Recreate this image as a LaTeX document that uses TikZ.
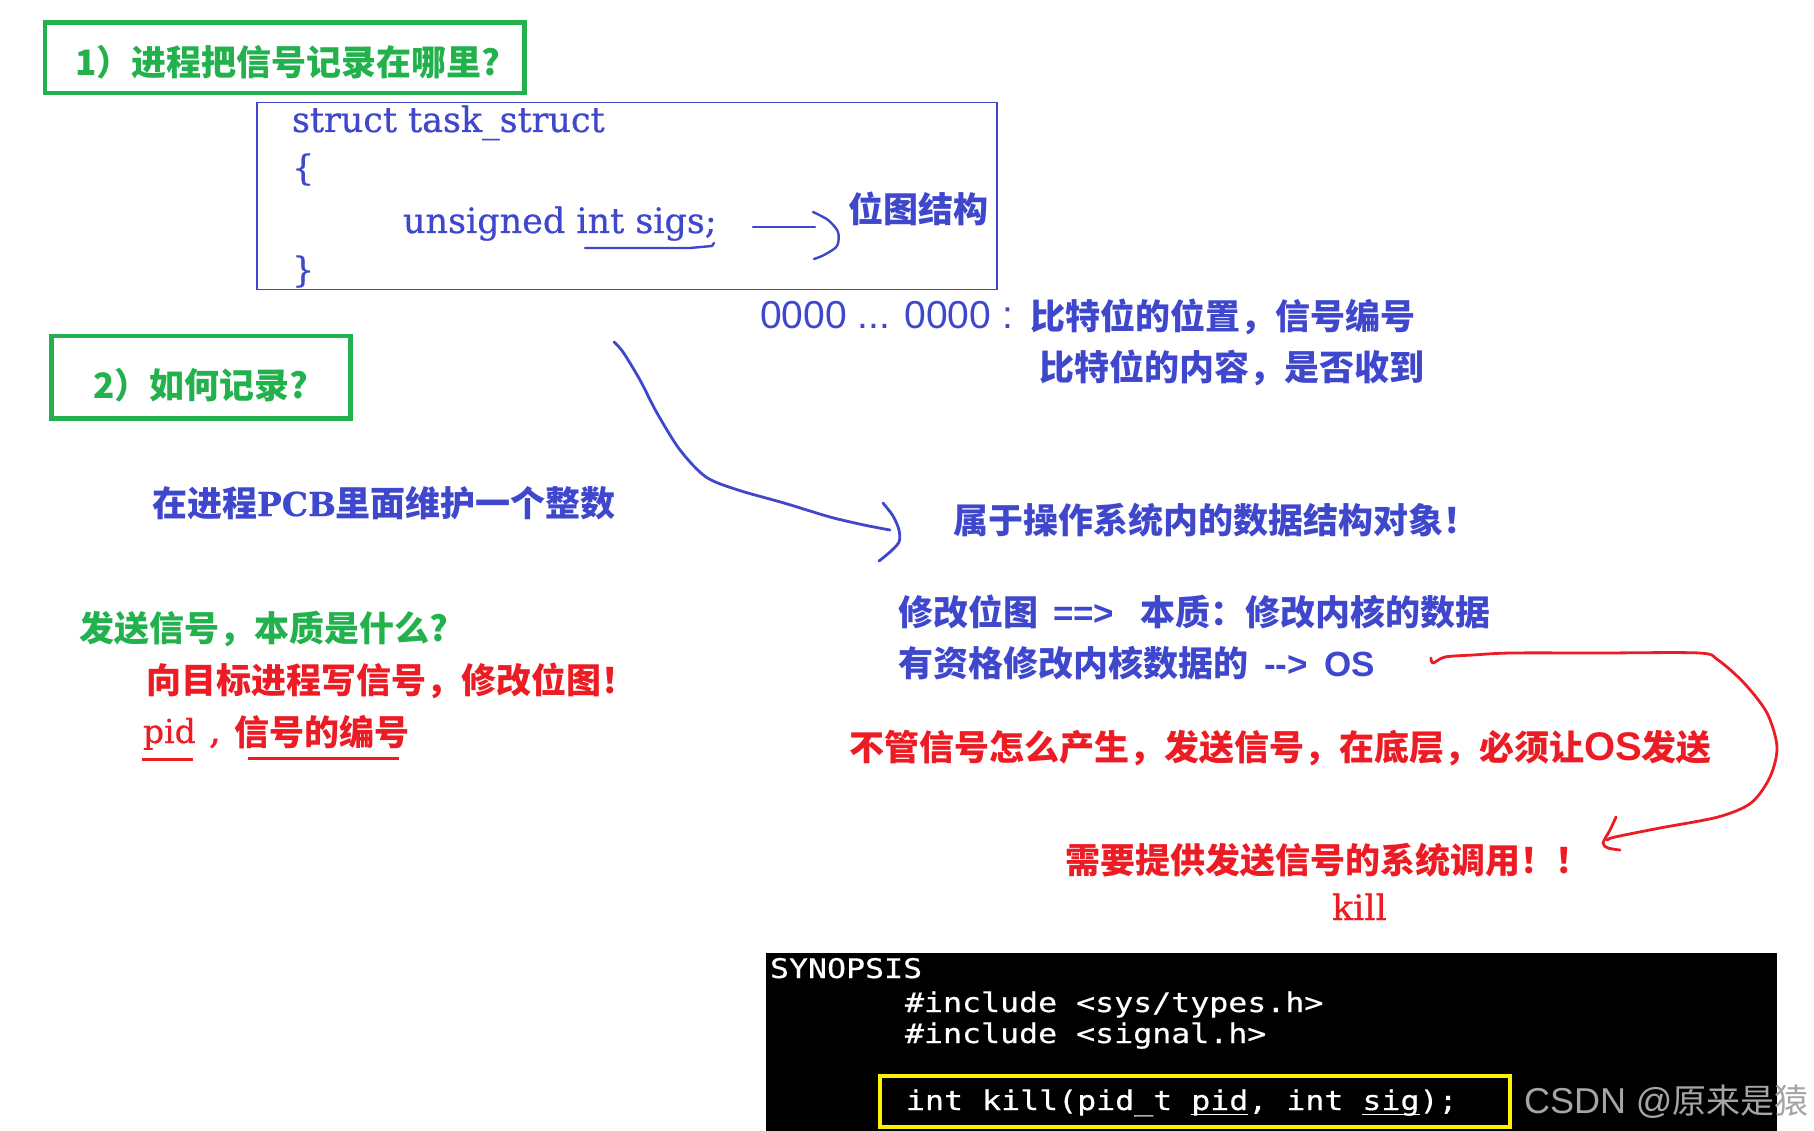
\documentclass[tikz,border=0pt]{standalone}
\usepackage{fontspec}
\newfontfamily\cjk{Noto Sans CJK SC}
\newfontfamily\dser[FakeBold=0.6]{DejaVu Serif}
\newfontfamily\lsans{Liberation Sans}
\newfontfamily\mono[FakeStretch=1.17,FakeBold=0.5]{DejaVu Sans Mono}
\definecolor{myblue}{RGB}{63,72,204}
\definecolor{mygreen}{RGB}{34,177,76}
\definecolor{myred}{RGB}{237,28,36}
\definecolor{myyellow}{RGB}{255,242,0}
\definecolor{wmark}{RGB}{165,165,165}
\newcommand\myul[1]{\setbox0\hbox{#1}\rlap{\rule[-5pt]{\wd0}{1.5pt}}\box0}
\tikzset{
  txt/.style={inner sep=0pt, outer sep=0pt, anchor=base west},
  cj/.style={txt, font=\fontsize{35}{40}\selectfont\cjk\bfseries},
  ser/.style={txt, font=\fontsize{35}{40}\selectfont\dser},
  mon/.style={txt, text=white, font=\fontsize{27}{30}\selectfont\mono},
  gbox/.style={draw=mygreen, line width=4.5pt, inner sep=0pt, anchor=north west},
  hand/.style={line width=2.8pt, line cap=round, line join=round},
}
\begin{document}
\begin{tikzpicture}[x=1pt,y=-1pt]
\useasboundingbox (0,0) rectangle (1814,1131);
\clip (0,0) rectangle (1814,1131);
\fill[white] (0,0) rectangle (1814,1131);

% green question boxes
\node[gbox, minimum width=479.5pt, minimum height=70.5pt] (box1) at (42.5,20.5) {};
\node[cj, text=mygreen] (q1) at (75,76) {1）进程把信号记录在哪里?};
\node[gbox, minimum width=299pt, minimum height=82pt] (box2) at (49,334) {};
\node[cj, text=mygreen] (q2) at (93,398) {2）如何记录?};

% struct box
\node[draw=myblue, line width=1.5pt, inner sep=0pt, anchor=north west,
      minimum width=740pt, minimum height=187pt] (sbox) at (256,102) {};
\node[ser, text=myblue] (s1) at (292,132) {struct task\_struct};
\node[ser, text=myblue] (s2) at (292,180) {\{};
\node[ser, text=myblue] (s3) at (403,233) {unsigned int sigs;};
\node[ser, text=myblue] (s4) at (292,282) {\}};
\draw[hand, myblue, line width=2.4pt] (585,248) -- (690,248) -- (712,246) -- (714,243);
\draw[hand, myblue, line width=2.4pt] (753,227) -- (815,227);
\draw[hand, myblue, line width=2.4pt] plot[smooth] coordinates {(813,212) (828,220) (838,232) (837,246) (824,255) (814,259)};
\node[cj, text=myblue] (bm) at (848,223) {位图结构};

% bits explanation
\node[txt, text=myblue, font=\fontsize{39}{44}\selectfont\lsans] (bits) at (760,329) {0000 ... 0000 :};
\node[cj, text=myblue] (b1) at (1030,330) {比特位的位置，信号编号};
\node[cj, text=myblue] (b2) at (1039,380) {比特位的内容，是否收到};

% big blue curve
\draw[hand, myblue] plot[smooth] coordinates {(614,342) (623,352) (640,380) (657,413) (680,450) (706,477) (738,490) (784,503) (830,517) (864,525) (890,530)};
\draw[hand, myblue] plot[smooth] coordinates {(883,503) (893,516) (899,530) (899,542) (890,552) (879,561)};

\node[cj, text=myblue] (pcb) at (152,516) {在进程{\dser\fontsize{33}{38}\selectfont PCB}里面维护一个整数};
\node[cj, text=myblue] (obj) at (953,533) {属于操作系统内的数据结构对象！};

% sending signals
\node[cj, text=mygreen] (send) at (79,641) {发送信号，本质是什么?};
\node[cj, text=myred] (w1) at (146,693) {向目标进程写信号，修改位图！};
\node[ser, text=myred, font=\fontsize{33}{36}\selectfont\dser] (pid) at (143,743) {pid};
\node[ser, text=myred, font=\fontsize{38}{40}\selectfont\dser] (comma) at (209,743) {,};
\node[cj, text=myred] (sn) at (234,745) {信号的编号};
\draw[myred, line width=3pt] (142,759) -- (193,759);
\draw[myred, line width=3pt] (248,758) -- (399,758);

% kernel data
\node[cj, text=myblue] (k1) at (898,625) {修改位图\hspace{15pt}{\lsans ==>}\hspace{26pt}本质：修改内核的数据};
\node[cj, text=myblue] (k2) at (898,676) {有资格修改内核数据的\hspace{16pt}{\lsans -->}\hspace{17pt}{\lsans OS}};

\draw[hand, myred] plot[smooth] coordinates {(1431,658) (1433,663) (1445,657) (1473,655) (1511,653) (1600,653) (1699,653) (1718,660) (1744,683) (1767,713) (1777,747) (1770,777) (1751,803) (1718,817) (1660,828) (1615,837) (1607,840)};
\draw[hand, myred] plot[smooth] coordinates {(1616,817) (1610,830) (1603,843) (1608,848) (1620,850)};

\node[cj, text=myred] (os) at (849,760) {不管信号怎么产生，发送信号，在底层，必须让{\lsans\fontsize{40}{44}\selectfont OS}发送};
\node[cj, text=myred] (sys) at (1065,873) {需要提供发送信号的系统调用！！};
\node[ser, text=myred, font=\fontsize{35}{40}\selectfont\dser] (kill) at (1332,920) {kill};

% terminal
\fill[black] (766,953) rectangle (1777,1140);
\node[mon] (t1) at (770,978) {SYNOPSIS};
\node[mon] (t2) at (905,1012) {\#include <sys/types.h>};
\node[mon] (t3) at (905,1043) {\#include <signal.h>};
\node[draw=myyellow, line width=4pt, inner sep=0pt, anchor=north west,
      minimum width=630pt, minimum height=51pt] (ybox) at (877.5,1073.5) {};
\node[mon] (t4) at (906,1110) {int kill(pid\_t \myul{pid}, int \myul{sig});};

% watermark
\node[txt, text=wmark, font=\fontsize{36}{42}\selectfont\lsans] (wm) at (1524,1113) {CSDN @{\cjk\fontsize{34}{40}\selectfont 原来是猿}};
\end{tikzpicture}
\end{document}
